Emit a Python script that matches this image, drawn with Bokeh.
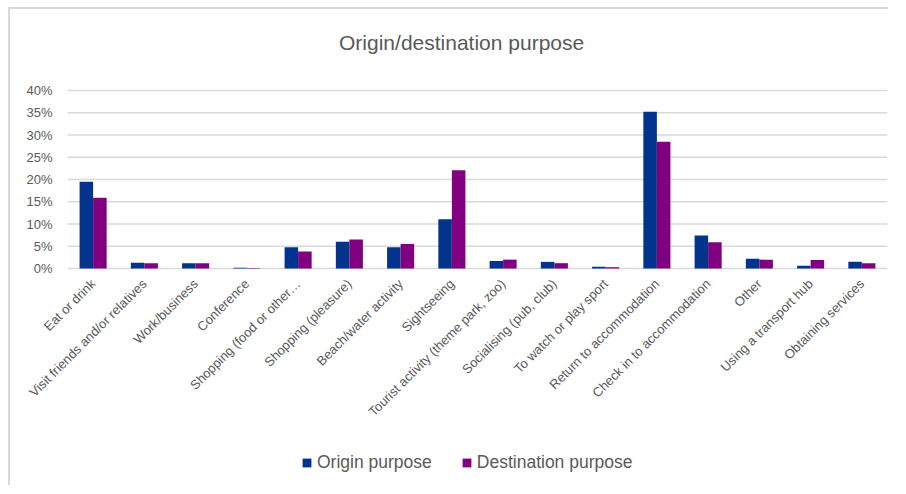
from bokeh.plotting import figure
from bokeh.models import (ColumnDataSource, Range1d, NumeralTickFormatter, Legend, LegendItem,
                          FixedTicker, Label)
from bokeh.transform import dodge
from bokeh.embed import file_html
from bokeh.resources import INLINE
import math

title_text = "Origin/destination purpose"
categories = ["Eat or drink", "Visit friends and/or relatives", "Work/business", "Conference",
              "Shopping (food or other\u2026", "Shopping (pleasure)", "Beach/water activity", "Sightseeing",
              "Tourist activity (theme park, zoo)", "Socialising (pub, club)", "To watch or play sport",
              "Return to accommodation", "Check in to accommodation", "Other", "Using a transport hub",
              "Obtaining services"]
origin = [0.195, 0.013, 0.012, 0.002, 0.048, 0.060, 0.048, 0.111, 0.017, 0.015, 0.004, 0.352, 0.074, 0.022, 0.006, 0.015]
destination = [0.159, 0.012, 0.012, 0.001, 0.038, 0.065, 0.055, 0.221, 0.020, 0.012, 0.003, 0.285, 0.059, 0.020, 0.019, 0.012]
y_ticks = [0, 0.05, 0.10, 0.15, 0.20, 0.25, 0.30, 0.35, 0.40]

FONT = "Liberation Sans"
TXT = "#595959"

idx = list(range(len(categories)))
src = ColumnDataSource(dict(i=idx, cat=categories, origin=origin, destination=destination))
n = len(categories)
first, last = -0.5, n - 0.5

p = figure(x_range=Range1d(-1.612, last), y_range=Range1d(-0.492, 0.582),
           width=880, height=478, output_backend="svg", toolbar_location=None,
           min_border_left=0, min_border_right=3, min_border_top=0, min_border_bottom=0)

# horizontal gridlines from the y tick values
grid_src = ColumnDataSource(dict(y=y_ticks, x0=[first] * len(y_ticks), x1=[last] * len(y_ticks)))
p.segment(x0="x0", x1="x1", y0="y", y1="y", source=grid_src, line_color="#d9d9d9", line_width=1.5)

r1 = p.vbar(x=dodge("i", -0.132), top="origin", width=0.264, source=src,
            fill_color="#02338d", line_color=None)
r2 = p.vbar(x=dodge("i", 0.132), top="destination", width=0.264, source=src,
            fill_color="#800080", line_color=None)

p.add_layout(Label(x=7.19, y=0.508, text=title_text, text_align="center", text_baseline="middle",
                   text_font=FONT, text_font_size="21px", text_color=TXT))

p.outline_line_color = None
p.xgrid.grid_line_color = None
p.ygrid.grid_line_color = None

p.yaxis.fixed_location = first
p.yaxis.ticker = FixedTicker(ticks=y_ticks)
p.yaxis.formatter = NumeralTickFormatter(format="0%")
p.yaxis.axis_line_color = None
p.yaxis.major_tick_line_color = None
p.yaxis.minor_tick_line_color = None
p.yaxis.major_tick_out = 0
p.yaxis.major_label_standoff = 15
p.yaxis.major_label_text_font = FONT
p.yaxis.major_label_text_font_size = "13px"
p.yaxis.major_label_text_color = TXT

p.xaxis.fixed_location = 0
p.xaxis.bounds = (first, last)
p.xaxis.ticker = FixedTicker(ticks=idx)
p.xaxis.major_label_overrides = {i: c for i, c in zip(idx, categories)}
p.xaxis.axis_line_color = None
p.xaxis.major_tick_line_color = None
p.xaxis.minor_tick_line_color = None
p.xaxis.major_tick_out = 0
p.xaxis.major_label_standoff = 13
p.xaxis.major_label_orientation = math.pi / 4
p.xaxis.major_label_text_font = FONT
p.xaxis.major_label_text_font_size = "13px"
p.xaxis.major_label_text_color = TXT

legend = Legend(items=[LegendItem(label="Origin purpose", renderers=[r1]),
                       LegendItem(label="Destination purpose", renderers=[r2])],
                orientation="horizontal", location=(291, 14), padding=0, margin=0,
                label_text_font=FONT, label_text_font_size="17.5px", label_text_color=TXT,
                glyph_width=11, glyph_height=11, spacing=29, label_standoff=5,
                border_line_color=None, background_fill_alpha=0)
p.add_layout(legend, "center")

p.styles = {"margin-left": "8px", "margin-top": "7px",
            "border-left": "2px solid #d9d9d9", "border-top": "2px solid #d9d9d9"}

open("out.html", "w").write(file_html(p, INLINE))
